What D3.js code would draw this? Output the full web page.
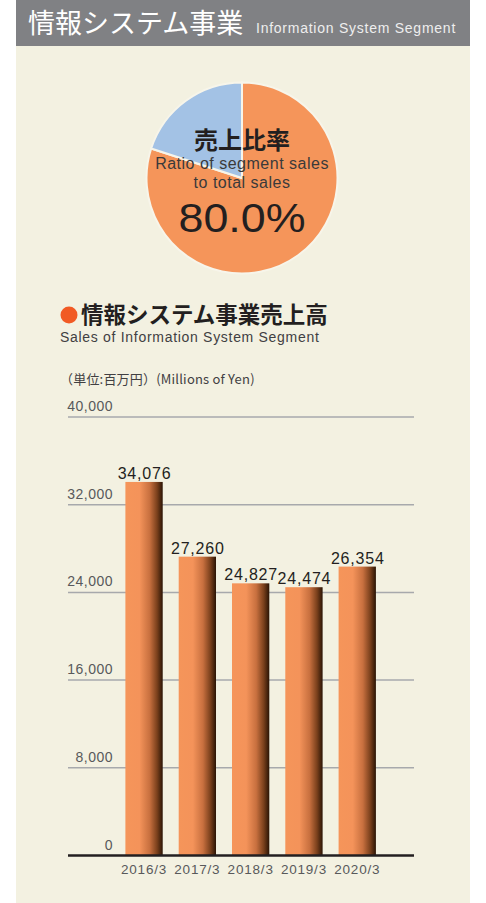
<!DOCTYPE html>
<html>
<head>
<meta charset="utf-8">
<title>情報システム事業</title>
<style>
body { margin: 0; background: #fff; }
.jp { font-family: 'Noto Sans CJK JP', sans-serif; }
.en { font-family: 'Liberation Sans', 'Noto Sans', sans-serif; }
.grid line { stroke: #a7a9ac; stroke-width: 1.5px; }
.tick-label { fill: #58595b; font-size: 14px; text-anchor: end; letter-spacing: 0.5px; }
.cat-label { fill: #58595b; font-size: 13.5px; text-anchor: middle; letter-spacing: 0.8px; }
.val-label { fill: #231f20; font-size: 16px; text-anchor: middle; letter-spacing: 0.8px; }
</style>
</head>
<body>
<svg width="486" height="903"></svg>
<script src="https://d3js.org/d3.v7.min.js"></script>
<script>
// data
var years = ["2016/3", "2017/3", "2018/3", "2019/3", "2020/3"];
var sales = [34076, 27260, 24827, 24474, 26354];
var yTicks = [0, 8000, 16000, 24000, 32000, 40000];
var ratioLabels = ["情報システム事業", "その他"];
var ratioValues = [80.0, 20.0];

var svg = d3.select("svg");

// panel + header
svg.append("rect").attr("x", 16).attr("y", 0).attr("width", 454).attr("height", 903).attr("fill", "#f3f1e1");
svg.append("rect").attr("x", 16).attr("y", 0).attr("width", 454).attr("height", 46).attr("fill", "#808184");
svg.append("text").attr("class", "jp").attr("x", 28).attr("y", 33)
  .attr("fill", "#fff").attr("font-size", 27).text("情報システム事業");
svg.append("text").attr("class", "en").attr("x", 256).attr("y", 33)
  .attr("fill", "#eeeeee").attr("font-size", 14).attr("letter-spacing", 0.75)
  .text("Information System Segment");

// pie
var pieG = svg.append("g").attr("transform", "translate(242,178)");
var pie = d3.pie().sort(null).value(function(d) { return d; });
var arc = d3.arc().innerRadius(0).outerRadius(95.5);
var pieColors = ["#f5955a", "#a3c2e5"];
pieG.selectAll("path")
  .data(pie(ratioValues))
  .enter().append("path")
  .attr("d", arc)
  .attr("fill", function(d, i) { return pieColors[i]; })
  .attr("stroke", "#f7f5ea")
  .attr("stroke-width", 2);

pieG.append("text").attr("class", "jp").attr("x", 0).attr("y", -29)
  .attr("text-anchor", "middle").attr("fill", "#231f20").attr("font-size", 24).attr("font-weight", 700)
  .text("売上比率");
pieG.append("text").attr("class", "en").attr("x", 0).attr("y", -9)
  .attr("text-anchor", "middle").attr("fill", "#3a3a3a").attr("font-size", 16).attr("letter-spacing", 0.5)
  .text("Ratio of segment sales");
pieG.append("text").attr("class", "en").attr("x", 0).attr("y", 10)
  .attr("text-anchor", "middle").attr("fill", "#3a3a3a").attr("font-size", 16).attr("letter-spacing", 0.5)
  .text("to total sales");
pieG.append("text").attr("class", "en")
  .attr("transform", "translate(0,54) scale(1.12,1)")
  .attr("text-anchor", "middle").attr("fill", "#231f20").attr("font-size", 40)
  .text(ratioValues[0].toFixed(1) + "%");

// section title
svg.append("circle").attr("cx", 69).attr("cy", 315).attr("r", 8.5).attr("fill", "#f15a24");
svg.append("text").attr("class", "jp").attr("x", 81).attr("y", 323)
  .attr("fill", "#231f20").attr("font-size", 22.5).attr("font-weight", 700)
  .text("情報システム事業売上高");
svg.append("text").attr("class", "en").attr("x", 60).attr("y", 342)
  .attr("fill", "#414042").attr("font-size", 14).attr("letter-spacing", 0.7)
  .text("Sales of Information System Segment");
svg.append("text").attr("class", "jp").attr("x", 60).attr("y", 384)
  .attr("fill", "#414042").attr("font-size", 13).attr("letter-spacing", 0.2)
  .text("（単位:百万円）(Millions of Yen)");

// bar chart
var y = d3.scaleLinear().domain([0, 40000]).range([855.5, 417]);
var x = d3.scaleBand().domain(years).range([117.4, 383.9]).paddingInner(0.3).paddingOuter(0.15);

var grid = svg.append("g").attr("class", "grid");
grid.selectAll("line")
  .data(yTicks.filter(function(d) { return d > 0; }))
  .enter().append("line")
  .attr("x1", 68).attr("x2", 414)
  .attr("y1", function(d) { return y(d); })
  .attr("y2", function(d) { return y(d); });

svg.selectAll(".tick-label")
  .data(yTicks)
  .enter().append("text")
  .attr("class", "tick-label en")
  .attr("x", 113)
  .attr("y", function(d) { return y(d) - 6; })
  .text(function(d) { return d3.format(",")(d); });

var grad = svg.append("defs").append("linearGradient")
  .attr("id", "barGrad").attr("x1", "0%").attr("x2", "100%").attr("y1", "0%").attr("y2", "0%");
grad.append("stop").attr("offset", "0%").attr("stop-color", "#f5955a");
grad.append("stop").attr("offset", "38%").attr("stop-color", "#f4935a");
grad.append("stop").attr("offset", "65%").attr("stop-color", "#c8703f");
grad.append("stop").attr("offset", "85%").attr("stop-color", "#7a401c");
grad.append("stop").attr("offset", "100%").attr("stop-color", "#2a1405");

svg.selectAll(".bar")
  .data(sales)
  .enter().append("rect")
  .attr("class", "bar")
  .attr("x", function(d, i) { return x(years[i]); })
  .attr("width", x.bandwidth())
  .attr("y", function(d) { return y(d); })
  .attr("height", function(d) { return y(0) - y(d); })
  .attr("fill", "url(#barGrad)");

svg.selectAll(".val-label")
  .data(sales)
  .enter().append("text")
  .attr("class", "val-label en")
  .attr("x", function(d, i) { return x(years[i]) + x.bandwidth() / 2 + 0.5; })
  .attr("y", function(d) { return y(d) - 3; })
  .text(function(d) { return d3.format(",")(d); });

svg.append("line")
  .attr("x1", 68).attr("x2", 414)
  .attr("y1", y(0)).attr("y2", y(0))
  .attr("stroke", "#231f20").attr("stroke-width", 2.5);

svg.selectAll(".cat-label")
  .data(years)
  .enter().append("text")
  .attr("class", "cat-label en")
  .attr("x", function(d) { return x(d) + x.bandwidth() / 2; })
  .attr("y", 874)
  .text(function(d) { return d; });
</script>
</body>
</html>
